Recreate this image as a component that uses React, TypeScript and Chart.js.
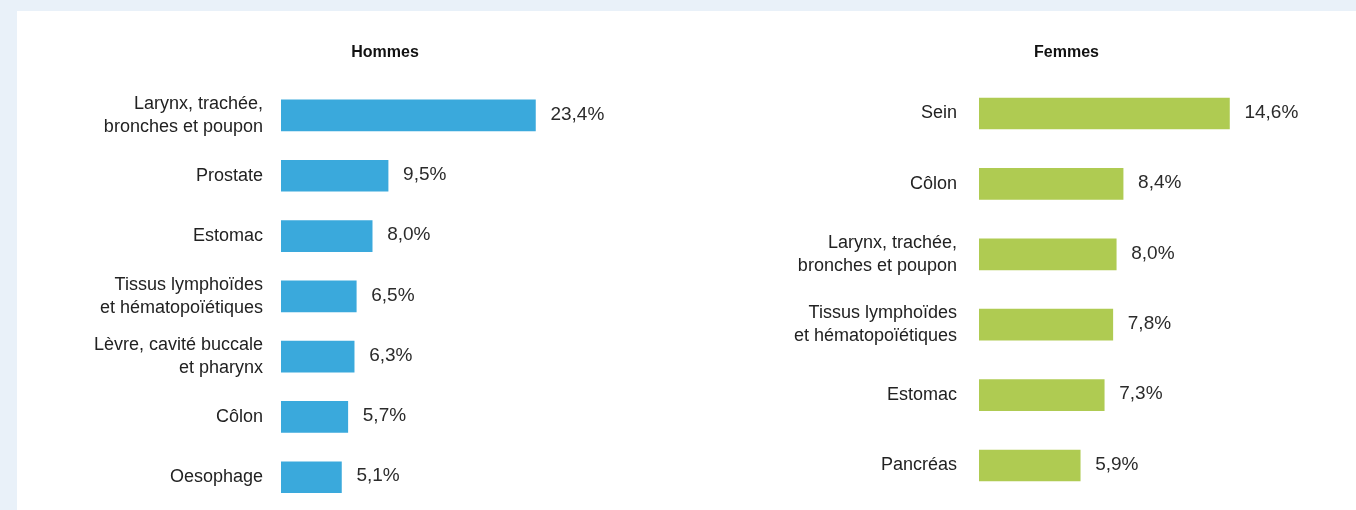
import React, { useEffect, useRef } from "react";
import { Chart, registerables } from "chart.js";

Chart.register(...registerables);

const hommesTitle = "Hommes";
const hommesCategories: (string | string[])[] = [
  ["Larynx, trachée,", "bronches et poupon"],
  "Prostate",
  "Estomac",
  ["Tissus lymphoïdes", "et hématopoïétiques"],
  ["Lèvre, cavité buccale", "et pharynx"],
  "Côlon",
  "Oesophage",
];
const hommesValues = [23.4, 9.5, 8.0, 6.5, 6.3, 5.7, 5.1];

const femmesTitle = "Femmes";
const femmesCategories: (string | string[])[] = [
  "Sein",
  "Côlon",
  ["Larynx, trachée,", "bronches et poupon"],
  ["Tissus lymphoïdes", "et hématopoïétiques"],
  "Estomac",
  "Pancréas",
];
const femmesValues = [14.6, 8.4, 8.0, 7.8, 7.3, 5.9];

const BLUE = "#3aa9dc";
const GREEN = "#afcb52";
const LABEL_FONT = "'Liberation Sans', Arial, sans-serif";
const TITLE_FONT = "'Liberation Sans', Arial, sans-serif";

const fmt = (v: number) => v.toFixed(1).replace(".", ",") + "%";

const valueLabels = {
  id: "valueLabels",
  afterDatasetsDraw(chart: any, _args: any, opts: any) {
    const ctx = chart.ctx;
    const meta = chart.getDatasetMeta(0);
    const data = chart.data.datasets[0].data as number[];
    ctx.save();
    ctx.font = `19px ${LABEL_FONT}`;
    ctx.fillStyle = "#2b2b2b";
    ctx.textAlign = "left";
    ctx.textBaseline = "middle";
    meta.data.forEach((bar: any, i: number) => {
      ctx.fillText(fmt(data[i]), bar.x + (opts.offset ?? 15), bar.y - 1);
    });
    ctx.restore();
  },
};

type Cfg = {
  title: string;
  categories: (string | string[])[];
  values: number[];
  color: string;
  axisWidth: number;
  tickPadding: number;
  xMin: number;
  xMax: number;
  base?: number;
  titleTop: number;
  titleBottom: number;
  padLeft: number;
  padRight: number;
  padBottom: number;
};

function BarPanel({ cfg, width, height }: { cfg: Cfg; width: number; height: number }) {
  const ref = useRef<HTMLCanvasElement | null>(null);
  useEffect(() => {
    if (!ref.current) return;
    const dataset: any = {
      data: cfg.values,
      backgroundColor: cfg.color,
      borderWidth: 0,
      barThickness: 31,
    };
    if (cfg.base !== undefined) dataset.base = cfg.base;
    const chart = new Chart(ref.current, {
      type: "bar",
      data: { labels: cfg.categories, datasets: [dataset] },
      options: {
        indexAxis: "y",
        responsive: false,
        animation: false,
        layout: { padding: { left: cfg.padLeft, right: cfg.padRight, top: 0, bottom: cfg.padBottom } },
        plugins: {
          legend: { display: false },
          tooltip: { enabled: false },
          title: {
            display: true,
            text: cfg.title,
            color: "#111111",
            font: { family: TITLE_FONT, size: 16, weight: "bold", lineHeight: 1.2 },
            padding: { top: cfg.titleTop, bottom: cfg.titleBottom },
          },
          valueLabels: { offset: 15 },
        } as any,
        scales: {
          x: {
            display: false,
            min: cfg.xMin,
            max: cfg.xMax,
          },
          y: {
            grid: { display: false, drawTicks: false },
            border: { display: false },
            ticks: {
              color: "#222222",
              padding: cfg.tickPadding,
              font: { family: LABEL_FONT, size: 18, lineHeight: 1.3 },
              autoSkip: false,
            },
            afterFit: (scale: any) => {
              scale.width = cfg.axisWidth;
              scale.paddingTop = 0;
              scale.paddingBottom = 0;
            },
          },
        },
      },
      plugins: [valueLabels],
    });
    return () => chart.destroy();
  }, [cfg]);
  return <canvas ref={ref} width={width} height={height} style={{ display: "block", width, height }} />;
}

const hommesCfg: Cfg = {
  title: hommesTitle,
  categories: hommesCategories,
  values: hommesValues,
  color: BLUE,
  axisWidth: 222.4,
  tickPadding: 18,
  xMin: -0.6,
  xMax: 40,
  base: -0.6,
  titleTop: 43,
  titleBottom: 23.1,
  padLeft: 40.6,
  padRight: 40.6,
  padBottom: 2.6,
};

const femmesCfg: Cfg = {
  title: femmesTitle,
  categories: femmesCategories,
  values: femmesValues,
  color: GREEN,
  axisWidth: 189,
  tickPadding: 22,
  xMin: 0,
  xMax: 21.22,
  titleTop: 43,
  titleBottom: 16.1,
  padLeft: 14,
  padRight: 13,
  padBottom: 9.3,
};

export default function App() {
  return (
    <div
      style={{
        position: "absolute",
        left: 0,
        top: 0,
        width: 1356,
        height: 510,
        background: "#e9f1f9",
        overflow: "hidden",
      }}
    >
      <div
        style={{
          position: "absolute",
          left: 17,
          top: 11,
          right: 0,
          bottom: 0,
          background: "#ffffff",
        }}
      />
      <div style={{ position: "absolute", left: 18, top: 0 }}>
        <BarPanel cfg={hommesCfg} width={734} height={510} />
      </div>
      <div style={{ position: "absolute", left: 776, top: 0 }}>
        <BarPanel cfg={femmesCfg} width={580} height={510} />
      </div>
    </div>
  );
}
